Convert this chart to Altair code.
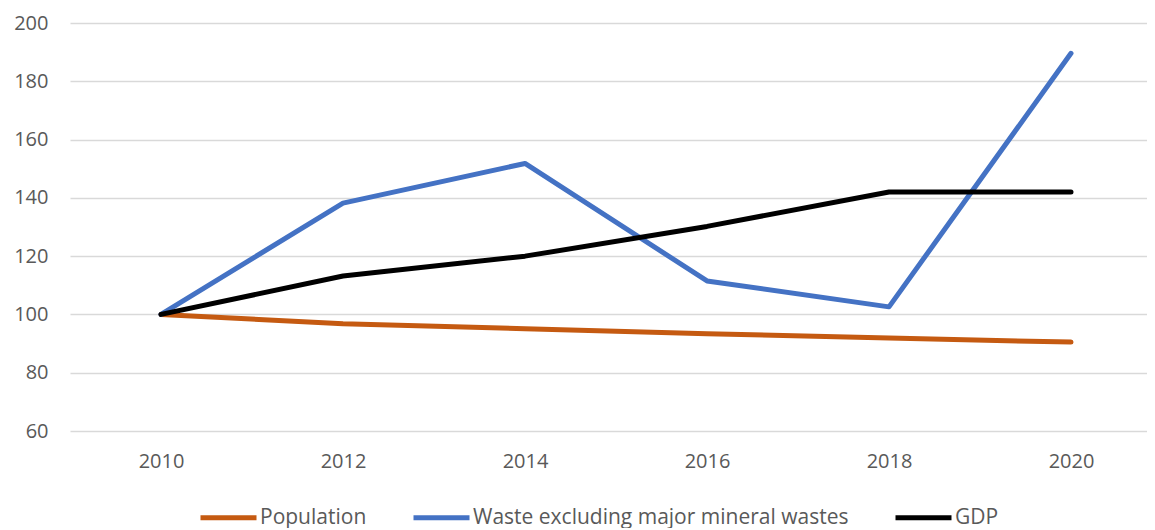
import altair as alt
import pandas as pd

years = [2010, 2012, 2014, 2016, 2018, 2020]
population = [100, 96.8, 95.1, 93.4, 91.9, 90.5]
waste = [100, 138.2, 151.8, 111.5, 102.6, 189.6]
gdp = [100, 113.2, 120.0, 130.2, 142.0, 142.0]

series_names = ["Population", "Waste excluding major mineral wastes", "GDP"]
series_colors = ["#C55A11", "#4472C4", "#000000"]

rows = []
for name, vals in zip(series_names, [population, waste, gdp]):
    for y, v in zip(years, vals):
        rows.append({"year": y, "value": v, "series": name})
df = pd.DataFrame(rows)

FONT = "Open Sans"
TXT = "#595959"
W = 1077

chart = alt.Chart(df).mark_line(strokeWidth=5, strokeCap="round", strokeJoin="round").encode(
    x=alt.X("year:Q", scale=alt.Scale(domain=[2009, 2009 + W / 91.0], nice=False, zero=False),
            axis=alt.Axis(title=None, values=years, format="d", labelAngle=0, ticks=False, domain=False,
                          grid=False, labelFont=FONT, labelFontSize=20, labelColor=TXT, labelPadding=20,
                          labelFlush=False, labelOverlap=False)),
    y=alt.Y("value:Q", scale=alt.Scale(domain=[60, 200], nice=False, zero=False),
            axis=alt.Axis(title=None, values=[60, 80, 100, 120, 140, 160, 180, 200], ticks=False, domain=False,
                          gridColor="#d9d9d9", gridWidth=1.5, labelFont=FONT, labelFontSize=20,
                          labelColor=TXT, labelPadding=22)),
    color=alt.Color("series:N", scale=alt.Scale(domain=series_names, range=series_colors),
                    sort=series_names,
                    legend=alt.Legend(title=None, orient="none", direction="horizontal",
                                      legendX=128, legendY=464,
                                      symbolType="stroke", symbolSize=3136, symbolStrokeWidth=5,
                                      labelFont=FONT, labelFontSize=21, labelColor=TXT, labelLimit=600,
                                      labelOffset=1, columnPadding=36)),
    order=alt.Order("year:Q"),
).properties(
    width=W, height=408,
    padding={"left": 5, "top": 5, "right": 0, "bottom": 0},
).configure(background="white").configure_view(stroke=None)

chart.save("out.html", embed_options={"renderer": "svg", "actions": False})
